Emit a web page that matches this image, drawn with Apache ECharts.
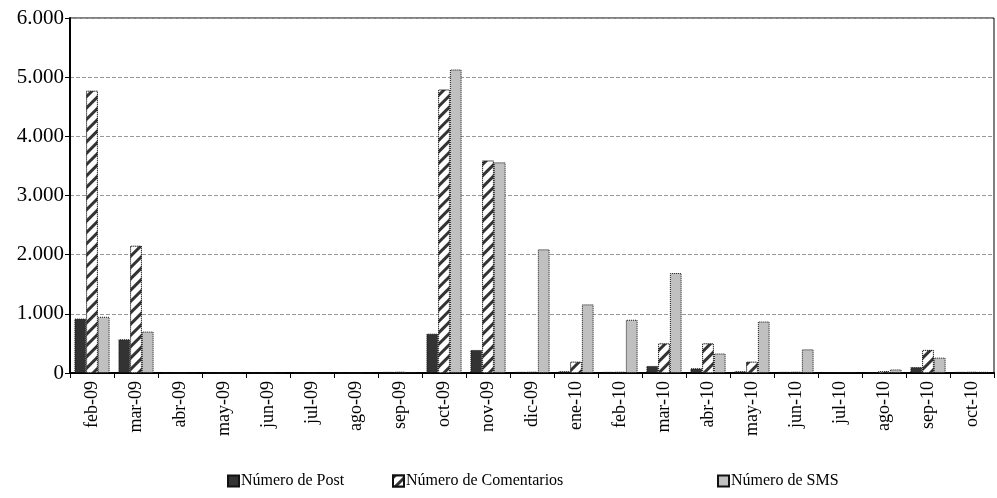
<!DOCTYPE html>
<html>
<head>
<meta charset="utf-8">
<script src="https://cdn.jsdelivr.net/npm/echarts@6/dist/echarts.min.js"></script>
<style>
  html, body { margin: 0; padding: 0; background: #fff; }
  #container { width: 997px; height: 498px; }
</style>
</head>
<body>
<div id="container"></div>
<script>
const months = ['feb-09', 'mar-09', 'abr-09', 'may-09', 'jun-09', 'jul-09', 'ago-09', 'sep-09', 'oct-09', 'nov-09', 'dic-09',
  'ene-10', 'feb-10', 'mar-10', 'abr-10', 'may-10', 'jun-10', 'jul-10', 'ago-10', 'sep-10', 'oct-10']

const posts =       [920, 570, 0, 0, 0, 0, 0, 20, 665, 390, 20, 30, 20, 120, 80, 30, 20, 15, 10, 100, 20]
const comentarios = [4770, 2150, 0, 0, 0, 0, 0, 20, 4790, 3590, 20, 190, 20, 500, 500, 190, 20, 15, 30, 390, 20]
const sms =         [950, 700, 0, 0, 0, 0, 0, 15, 5130, 3560, 2090, 1160, 900, 1690, 330, 870, 400, 15, 60, 260, 20]

const seriesNames = ['Número de Post', 'Número de Comentarios', 'Número de SMS']

const dom = document.getElementById('container')
const myChart = echarts.init(dom)

const font = '"Liberation Serif", "DejaVu Serif", serif'

const barStyle = color => ({
  color: color,
  borderColor: '#111',
  borderWidth: 1,
  borderType: 'dotted'
})

const legendAt = (name, left) => ({
  bottom: 4,
  left: left,
  itemWidth: 11,
  itemHeight: 11,
  itemGap: 0,
  icon: 'rect',
  textStyle: { fontFamily: font, fontSize: 16, color: '#000', padding: [0, 0, 0, -3] },
  data: [name]
})

const option = {
  animation: false,
  textStyle: { fontFamily: font },
  grid: {
    left: 70, right: 3, top: 18, bottom: 125,
    show: true, borderColor: '#000', borderWidth: 1
  },
  legend: [
    legendAt(seriesNames[0], 222),
    legendAt(seriesNames[1], 387),
    legendAt(seriesNames[2], 712)
  ],
  xAxis: {
    type: 'category',
    data: months,
    axisLine: { lineStyle: { color: '#000', width: 2 } },
    axisTick: { show: true, lineStyle: { color: '#000' }, length: 5 },
    axisLabel: {
      rotate: 90,
      fontFamily: font,
      fontSize: 18,
      color: '#000',
      margin: 8
    }
  },
  yAxis: {
    type: 'value',
    min: 0,
    max: 6000,
    interval: 1000,
    axisLine: { show: true, lineStyle: { color: '#000', width: 2 } },
    axisTick: { show: true, lineStyle: { color: '#000' }, length: 5 },
    axisLabel: {
      fontFamily: font,
      fontSize: 21,
      color: '#000',
      margin: 6,
      formatter: v => v === 0 ? '0' : (v / 1000) + '.000'
    },
    splitLine: { lineStyle: { color: '#999', type: 'dashed' } }
  },
  series: [
    {
      name: seriesNames[0],
      type: 'bar',
      data: posts,
      barGap: '0%',
      barCategoryGap: '20%',
      itemStyle: barStyle('#333333')
    },
    {
      name: seriesNames[1],
      type: 'bar',
      data: comentarios,
      itemStyle: Object.assign(barStyle('#ffffff'), {
        decal: {
          symbol: 'rect',
          color: '#333',
          backgroundColor: '#ffffff',
          dashArrayX: [1, 0],
          dashArrayY: [3, 5],
          rotation: -Math.PI / 4,
          symbolSize: 1
        }
      })
    },
    {
      name: seriesNames[2],
      type: 'bar',
      data: sms,
      itemStyle: barStyle('#c0c0c0')
    }
  ]
}

myChart.setOption(option)
</script>
</body>
</html>
